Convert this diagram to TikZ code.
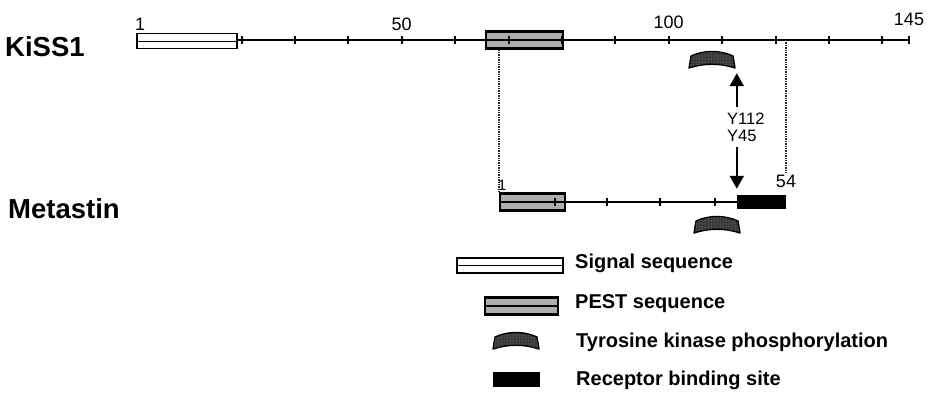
\documentclass[tikz,border=0pt]{standalone}
\usepackage{fontspec}
\setmainfont{Liberation Sans}
\usetikzlibrary{arrows.meta,patterns}
\definecolor{pestgray}{gray}{0.68}
\definecolor{tyrgray}{gray}{0.22}

\tikzset{
  seq/.style={line width=2.2pt},
  tick/.style={line width=2pt},
  sigbox/.style={draw,line width=1.7pt,fill=white,inner sep=0pt,minimum height=15pt,
    path picture={\draw[line width=1pt] (path picture bounding box.west) -- (path picture bounding box.east);}},
  pestbox/.style={draw,line width=2.2pt,fill=pestgray,inner sep=0pt,minimum height=17pt,
    path picture={\draw[line width=1.4pt] (path picture bounding box.west) -- (path picture bounding box.east);}},
  rbbox/.style={fill=black,inner sep=0pt,minimum width=49pt,minimum height=14pt},
  tyrbox/.style={inner sep=0pt,minimum width=46pt,minimum height=16pt},
  guide/.style={densely dotted,line width=1.4pt,black!85},
  arr/.style={line width=2pt,-{Triangle[width=14pt,length=13pt]}},
  gene/.style={font=\fontsize{27.5}{30}\selectfont\bfseries,anchor=base west,inner sep=0pt},
  num/.style={font=\fontsize{18}{20}\selectfont,anchor=base,inner sep=0pt},
  key/.style={font=\fontsize{20}{23}\selectfont\bfseries,anchor=base west,inner sep=0pt},
}
% tyrosine kinase site: a small arched banner
\newcommand\tyrsite[2]{%
  \node[tyrbox] (#1) at (#2) {};
  \begin{scope}[shift={(#1.center)}]
    \filldraw[fill=tyrgray,line width=1.4pt,line join=round,
      postaction={pattern=dots,pattern color=gray!70}]
      (-21,-4) .. controls (-8,-10) and (8,-10) .. (21,-4) -- (23,8)
      .. controls (8,3) and (-8,3) .. (-23,8) -- cycle;
  \end{scope}}
\newcommand\kpos[1]{134.7+5.34*#1}

\begin{document}
\begin{tikzpicture}[x=1pt,y=-1pt]
\useasboundingbox (0,0) rectangle (930,407);

% KiSS1
\node[gene] (kiss) at (5,56) {KiSS1};
\coordinate (kend) at ({\kpos{145}},40);
\draw[seq] (137,40) -- (kend);
\node[sigbox,minimum width=100pt] (sig) at (187,41) {};
\node[pestbox,minimum width=77pt] (pest) at (524.5,40) {};
\foreach \r in {20,30,...,140,145}
  \draw[tick] ({\kpos{\r}},36) -- ++(0,8);
\foreach \r/\yb in {1/30,50/30,100/28,145/25}
  \node[num] (n\r) at ({\kpos{\r}},\yb) {\r};

% Metastin
\node[gene] (meta) at (8,218) {Metastin};
\node[pestbox,minimum width=65pt] (mpest) at (532.5,202) {};
\node[rbbox] (rb) at (761.5,202) {};
\draw[seq] (mpest.east) -- (rb.west);
\foreach \x in {555,607,660,715}
  \draw[tick] (\x,198) -- ++(0,8);
\node[num,font=\fontsize{15}{16}\selectfont] (m1) at (502,190) {1};
\node[num] (m54) at (786,187) {54};

% guides from KiSS1 to metastin
\draw[guide] (pest.south -| mpest.west) -- (mpest.north west);
\draw[guide] (m54.north |- kend) -- ([yshift=1pt]m54.north);

% tyrosine sites and arrows
\tyrsite{ty1}{712,60}
\tyrsite{ty2}{717,225}
\node[font=\fontsize{16.5}{17}\selectfont,align=left,anchor=west,inner xsep=0pt,inner ysep=5pt] (yl) at (727,127) {Y112\\Y45};
\coordinate (up) at (rb.west |- ty1.south);
\draw[arr,shorten >=5pt] (yl.north -| rb.west) -- (up);
\draw[arr,shorten >=6pt] (yl.south -| rb.west) -- (rb.north west);

% legend
\node[sigbox,minimum width=106pt] (lsig) at (510,265.5) {};
\node[key] (ksig) at (575,268) {Signal sequence};
\node[pestbox,minimum width=73pt] (lpest) at (521.5,306) {};
\node[key] (kpest) at (575,308) {PEST sequence};
\tyrsite{ltyr}{516,341}
\node[key] (ktyr) at (576,347) {Tyrosine kinase phosphorylation};
\node[rbbox,minimum width=47pt,minimum height=15pt] (lrb) at (516.5,379.5) {};
\node[key] (krb) at (576,385) {Receptor binding site};
\end{tikzpicture}
\end{document}
